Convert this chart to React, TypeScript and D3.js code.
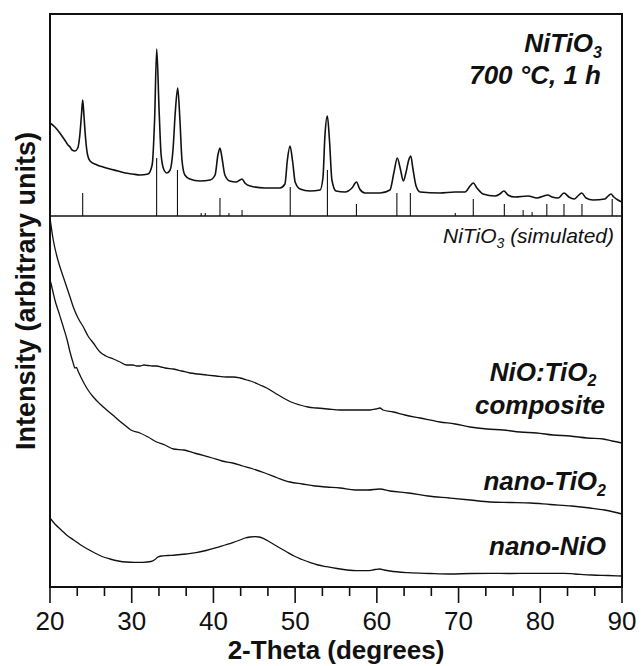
import React from "react";
import * as d3 from "d3";

const WIDTH = 641;
const HEIGHT = 666;

// 2θ range and intensity range (arbitrary units, stacked traces)
const X_DOMAIN: [number, number] = [20, 90];
const Y_DOMAIN: [number, number] = [0, 573];
const MAJOR_TICKS = [20, 30, 40, 50, 60, 70, 80, 90];
const MINOR_STEP = 10 / 3;

// baseline of the simulated stick pattern (same intensity units)
const SIM_BASELINE = 371;

// NiTiO3 calcined at 700 °C for 1 h: [2θ, intensity]
const niTiO3Pattern: [number, number][] = [
  [20.0, 464], [20.6, 460], [21.2, 454], [21.8, 447], [22.2, 442], [22.45, 440], [22.7, 437],
  [23.05, 436], [23.4, 439], [23.65, 452], [23.85, 472], [24.0, 487], [24.15, 472], [24.35, 449],
  [24.6, 432], [24.9, 426], [25.75, 422], [26.5, 420], [27.35, 418], [28.3, 416], [29.2, 414],
  [30.1, 413], [31.0, 412], [32.0, 413], [32.5, 422], [32.8, 467], [33.06, 538], [33.35, 477],
  [33.6, 432], [33.95, 417], [34.3, 414], [34.7, 417], [35.05, 437], [35.35, 477], [35.63, 499],
  [35.9, 467], [36.15, 427], [36.5, 412], [37.1, 408], [38.35, 406], [39.6, 407], [40.2, 412],
  [40.55, 432], [40.8, 439], [41.05, 429], [41.4, 412], [42.0, 406], [42.75, 405], [43.25, 407],
  [43.5, 408], [43.85, 404], [44.5, 401], [46.3, 399], [48.15, 399], [48.75, 403], [49.05, 427],
  [49.37, 441], [49.7, 425], [50.0, 405], [50.6, 398], [51.8, 396], [53.05, 397], [53.4, 409],
  [53.65, 452], [53.94, 471], [54.2, 447], [54.5, 407], [55.0, 396], [56.1, 395], [56.95, 399],
  [57.5, 405], [57.9, 398], [58.55, 394], [60.4, 394], [61.6, 397], [62.1, 415], [62.5, 429],
  [62.85, 419], [63.25, 406], [63.55, 414], [63.9, 427], [64.15, 431], [64.4, 419], [64.8, 401],
  [65.3, 395], [67.7, 394], [69.55, 395], [70.8, 395], [71.4, 401], [71.8, 404], [72.25, 399],
  [73.0, 393], [74.45, 391], [75.05, 393], [75.55, 396], [76.05, 392], [76.9, 390], [78.5, 391],
  [79.6, 389], [80.45, 391], [80.9, 392], [81.45, 390], [82.2, 389], [82.9, 394], [83.5, 390],
  [84.15, 388], [84.6, 391], [85.07, 394], [85.6, 389], [86.45, 387], [87.9, 388], [88.3, 391],
  [88.65, 393], [89.0, 390], [89.5, 387], [90.0, 385],
];

// Simulated NiTiO3 reflections: positions and relative heights
const simulatedTwoTheta = [
  24.0, 33.05, 35.6, 38.5, 39.0, 40.8, 41.9, 43.5, 49.4, 53.95, 57.5,
  62.45, 64.1, 69.6, 71.8, 75.6, 77.9, 79.0, 80.8, 82.9, 85.1, 88.8,
];
const simulatedIntensity = [
  23, 58, 46, 3, 3, 18, 3, 6, 29, 46, 12,
  23, 23, 3, 17, 12, 6, 4, 12, 12, 12, 17,
];

// NiO:TiO2 composite
const compositePattern: [number, number][] = [
  [20.0, 369], [20.4, 347], [20.8, 332], [21.22, 320], [21.63, 310], [22.04, 300], [22.45, 290],
  [22.85, 280], [23.43, 269], [24.08, 260], [24.65, 251], [25.3, 244], [26.12, 235], [26.85, 231],
  [27.75, 228], [28.57, 225], [29.39, 222], [30.16, 222], [30.6, 221], [31.01, 221], [31.5, 222],
  [31.99, 221.5], [32.5, 221], [33.06, 221], [33.6, 220], [34.07, 219], [35.09, 218], [36.12, 216],
  [37.13, 214], [38.11, 213], [39.18, 212], [40.31, 211], [41.62, 210], [42.4, 210], [43.25, 209],
  [44.11, 207], [44.88, 205], [45.7, 202], [46.52, 199], [47.53, 194], [48.55, 189], [49.49, 185],
  [50.59, 182], [51.57, 180], [52.64, 179], [54.02, 178], [55.49, 177], [56.71, 177], [57.94, 177],
  [59.16, 177], [59.9, 178], [60.38, 179], [60.75, 177], [62.01, 175], [63.44, 172], [65.28, 169],
  [67.73, 165], [69.56, 163], [71.4, 160], [73.48, 158], [75.47, 157], [77.52, 155], [79.56, 154],
  [81.56, 152], [83.64, 151], [85.72, 149], [87.71, 148], [88.78, 146], [90.0, 144],
];

// nano-TiO2
const tio2Pattern: [number, number][] = [
  [20.08, 305], [20.37, 295], [20.6, 287], [21.1, 274], [21.63, 260], [22.1, 247], [22.45, 235],
  [22.8, 225], [23.06, 219], [23.24, 219.5], [23.43, 216], [24.08, 205], [24.65, 197], [25.3, 190],
  [26.12, 183], [26.94, 177], [27.95, 170], [28.97, 163], [29.9, 157], [31.0, 154], [32.0, 150],
  [33.06, 145], [34.07, 142], [35.1, 138], [36.36, 137], [38.1, 133], [39.86, 129], [41.05, 126],
  [42.36, 124], [43.6, 121], [44.87, 118], [46.3, 114], [47.87, 109], [49.37, 105], [50.87, 103],
  [52.4, 101], [53.86, 100], [55.5, 99], [57.35, 97], [58.9, 97], [60.35, 98], [61.6, 96],
  [63.85, 94], [66.25, 91], [68.85, 89], [71.4, 87], [73.85, 85], [76.3, 84.5], [78.85, 84],
  [81.2, 82.5], [83.85, 81], [86.1, 79], [87.84, 77], [89.0, 75], [90.0, 73],
];

// nano-NiO
const nioPattern: [number, number][] = [
  [20.0, 69], [20.6, 63], [21.37, 57], [22.1, 51.5], [22.9, 47], [23.67, 42.5], [24.37, 39],
  [25.38, 34.5], [26.36, 30.5], [27.34, 28], [28.37, 26], [29.3, 25], [30.37, 24.7], [31.38, 24.7],
  [32.36, 25.5], [32.85, 27.5], [33.2, 30], [33.62, 31], [34.44, 31.5], [35.37, 32], [36.64, 33],
  [37.87, 34.3], [39.1, 36.5], [40.36, 39.3], [41.42, 42], [42.36, 44.3], [43.25, 47], [43.86, 49],
  [44.48, 50], [45.1, 50.3], [45.57, 50], [46.1, 48.7], [46.9, 45], [47.87, 40.3], [48.9, 35.5],
  [49.86, 31], [50.84, 27.5], [51.86, 24.3], [52.8, 22], [53.86, 20.3], [55.12, 18.5], [56.36, 17],
  [57.57, 16.3], [58.86, 16.3], [59.78, 17.5], [60.35, 18], [60.9, 17], [61.6, 16], [63.85, 14.3],
  [66.5, 13.5], [68.85, 13], [71.4, 13.5], [73.85, 13.7], [76.3, 13.5], [78.85, 13.7], [81.2, 13.7],
  [82.85, 13.7], [84.25, 13], [86.33, 12], [88.3, 11.5], [90.0, 11],
];

const FONT = "'Liberation Sans', Arial, Helvetica, sans-serif";
const INK = "#111";

export default function App() {
  const x = d3.scaleLinear().domain(X_DOMAIN).range([50, 622]);
  const y = d3.scaleLinear().domain(Y_DOMAIN).range([587, 14]);

  const line = d3
    .line<[number, number]>()
    .x((d) => x(d[0]))
    .y((d) => y(d[1]))
    .curve(d3.curveMonotoneX);

  const minorTicks = d3
    .range(0, 22)
    .filter((i) => i % 3 !== 0)
    .map((i) => X_DOMAIN[0] + i * MINOR_STEP);

  const [x0, x1] = X_DOMAIN.map(x);
  const [yBottom, yTop] = Y_DOMAIN.map(y);
  const ySep = y(SIM_BASELINE);

  return (
    <svg
      width={WIDTH}
      height={HEIGHT}
      style={{ position: "absolute", left: 0, top: 0, background: "#fff" }}
      fontFamily={FONT}
    >
      <rect x={0} y={0} width={WIDTH} height={HEIGHT} fill="#fff" />

      {/* traces */}
      <g fill="none" stroke={INK} strokeLinejoin="round">
        <path d={line(niTiO3Pattern) ?? ""} strokeWidth={1.6} />
        <path d={line(compositePattern) ?? ""} strokeWidth={1.3} />
        <path d={line(tio2Pattern) ?? ""} strokeWidth={1.3} />
        <path d={line(nioPattern) ?? ""} strokeWidth={1.3} />
      </g>

      {/* simulated reflections */}
      <g stroke={INK} strokeWidth={1.1}>
        {simulatedTwoTheta.map((t, i) => (
          <line
            key={i}
            x1={x(t)}
            x2={x(t)}
            y1={ySep}
            y2={y(SIM_BASELINE + simulatedIntensity[i])}
          />
        ))}
      </g>

      {/* frame */}
      <g stroke={INK} fill="none">
        <rect x={x0} y={yTop} width={x1 - x0} height={yBottom - yTop} strokeWidth={2} />
        <line x1={x0} x2={x1} y1={ySep} y2={ySep} strokeWidth={1.5} />
      </g>

      {/* x axis ticks */}
      <g stroke={INK} strokeWidth={1.6}>
        {MAJOR_TICKS.map((t) => (
          <line key={"M" + t} x1={x(t)} x2={x(t)} y1={yBottom} y2={yBottom + 16} />
        ))}
        {minorTicks.map((t, i) => (
          <line key={"m" + i} x1={x(t)} x2={x(t)} y1={yBottom} y2={yBottom + 9} />
        ))}
      </g>
      <g fontSize={26} textAnchor="middle" fill={INK}>
        {MAJOR_TICKS.map((t) => (
          <text key={t} x={x(t)} y={630}>
            {t}
          </text>
        ))}
      </g>

      {/* axis titles */}
      <text x={(x0 + x1) / 2} y={659} textAnchor="middle" fontSize={26} fontWeight="bold" fill={INK}>
        2-Theta (degrees)
      </text>
      <text
        transform="translate(35,291) rotate(-90)"
        textAnchor="middle"
        fontSize={27}
        fontWeight="bold"
        fill={INK}
      >
        Intensity (arbitrary units)
      </text>

      {/* trace labels */}
      <g fontSize={26} fontWeight="bold" fontStyle="italic" fill={INK}>
        <text x={602} y={52} textAnchor="end">
          NiTiO
          <tspan fontSize={16} dy={6}>3</tspan>
        </text>
        <text x={601} y={84} textAnchor="end">
          700 °C, 1 h
        </text>
        <text x={543} y={381} textAnchor="middle">
          NiO:TiO
          <tspan fontSize={16} dy={5}>2</tspan>
        </text>
        <text x={540} y={414} textAnchor="middle">
          composite
        </text>
        <text x={606} y={490} textAnchor="end">
          nano-TiO
          <tspan fontSize={16} dy={6}>2</tspan>
        </text>
        <text x={606} y={555} textAnchor="end">
          nano-NiO
        </text>
      </g>
      <text x={614} y={243} textAnchor="end" fontSize={21} fontStyle="italic" fill={INK}>
        NiTiO
        <tspan fontSize={14} dy={5}>3</tspan>
        <tspan dy={-5}> (simulated)</tspan>
      </text>
    </svg>
  );
}
